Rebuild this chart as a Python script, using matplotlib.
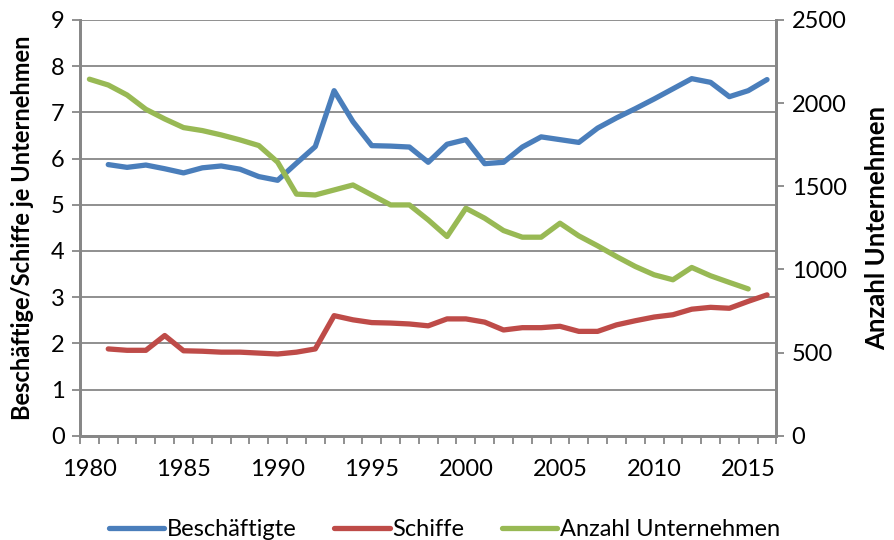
import matplotlib.pyplot as plt
import numpy as np

plt.rcParams['font.family'] = ['Lato', 'DejaVu Sans']

years = list(range(1980, 2017))

# Beschäftigte je Unternehmen (1981-2016)
beschaeftigte = [5.87, 5.81, 5.86, 5.78, 5.69, 5.80, 5.84, 5.77, 5.61, 5.53,
                 5.90, 6.26, 7.47, 6.80, 6.28, 6.27, 6.25, 5.92, 6.31, 6.41,
                 5.89, 5.92, 6.25, 6.47, 6.41, 6.35, 6.66, 6.88, 7.08, 7.29,
                 7.51, 7.73, 7.65, 7.34, 7.47, 7.71]

# Schiffe je Unternehmen (1981-2016)
schiffe = [1.88, 1.85, 1.85, 2.17, 1.84, 1.83, 1.81, 1.81, 1.79, 1.77,
           1.81, 1.88, 2.60, 2.51, 2.45, 2.44, 2.42, 2.38, 2.53, 2.53,
           2.46, 2.29, 2.34, 2.34, 2.37, 2.26, 2.26, 2.40, 2.49, 2.57,
           2.62, 2.74, 2.78, 2.76, 2.91, 3.05]

# Anzahl Unternehmen (1980-2015)
unternehmen = [2144, 2109, 2049, 1963, 1905, 1853, 1835, 1809, 1779, 1745,
               1645, 1453, 1448, 1478, 1508, 1448, 1388, 1388, 1298, 1198,
               1368, 1308, 1234, 1194, 1194, 1278, 1202, 1142, 1078, 1018,
               968, 938, 1012, 962, 922, 883]

blue = '#4A7EBB'
red = '#BE4B48'
green = '#98B954'
grey = '#878787'

fig = plt.figure(figsize=(8.94, 5.4), dpi=100)
ax = fig.add_axes([0.0895, 0.193, 0.779, 0.770])
ax2 = ax.twinx()

lw = 3.8
l1, = ax.plot(years[1:], beschaeftigte, color=blue, lw=lw, solid_capstyle='round',
              label='Beschäftigte')
l2, = ax.plot(years[1:], schiffe, color=red, lw=lw, solid_capstyle='round',
              label='Schiffe')
l3, = ax2.plot(years[:-1], unternehmen, color=green, lw=lw, solid_capstyle='round',
               label='Anzahl Unternehmen')

ax.set_xlim(1979.5, 2016.5)
ax.set_ylim(0, 9)
ax2.set_ylim(0, 2500)
ax.set_yticks(range(0, 10))
ax2.set_yticks(range(0, 2501, 500))
ax.set_xticks(range(1980, 2016, 5))
ax.set_xticks(np.arange(1979.5, 2017, 1), minor=True)

ax.yaxis.grid(True, color=grey, lw=1.3)
ax.set_axisbelow(True)

for a in (ax, ax2):
    a.spines['top'].set_visible(False)
    for side in ('left', 'right', 'bottom'):
        a.spines[side].set_color(grey)
        a.spines[side].set_linewidth(2)

fs = 17
ax.tick_params(axis='x', which='major', length=0, pad=17, labelsize=fs)
ax.tick_params(axis='x', which='minor', length=6, width=1.3, color=grey, direction='out')
ax.tick_params(axis='y', length=6, width=1.3, color=grey, labelsize=fs, pad=5)
ax2.tick_params(axis='y', length=6, width=1.3, color=grey, labelsize=fs, pad=5)

ax.set_ylabel('Beschäftige/Schiffe je Unternehmen', fontsize=17, fontweight='bold')
ax.yaxis.set_label_coords(-0.066, 0.5)
ax2.set_ylabel('Anzahl Unternehmen', fontsize=18.5, fontweight='bold')
ax2.yaxis.set_label_coords(1.127, 0.5)

fig.legend(handles=[l1, l2, l3], loc='lower center', bbox_to_anchor=(0.497, -0.04),
           ncol=3, frameon=False, fontsize=fs, handlelength=2.35, handletextpad=0.1,
           columnspacing=1.6)

fig.savefig('out.png', dpi=100)
